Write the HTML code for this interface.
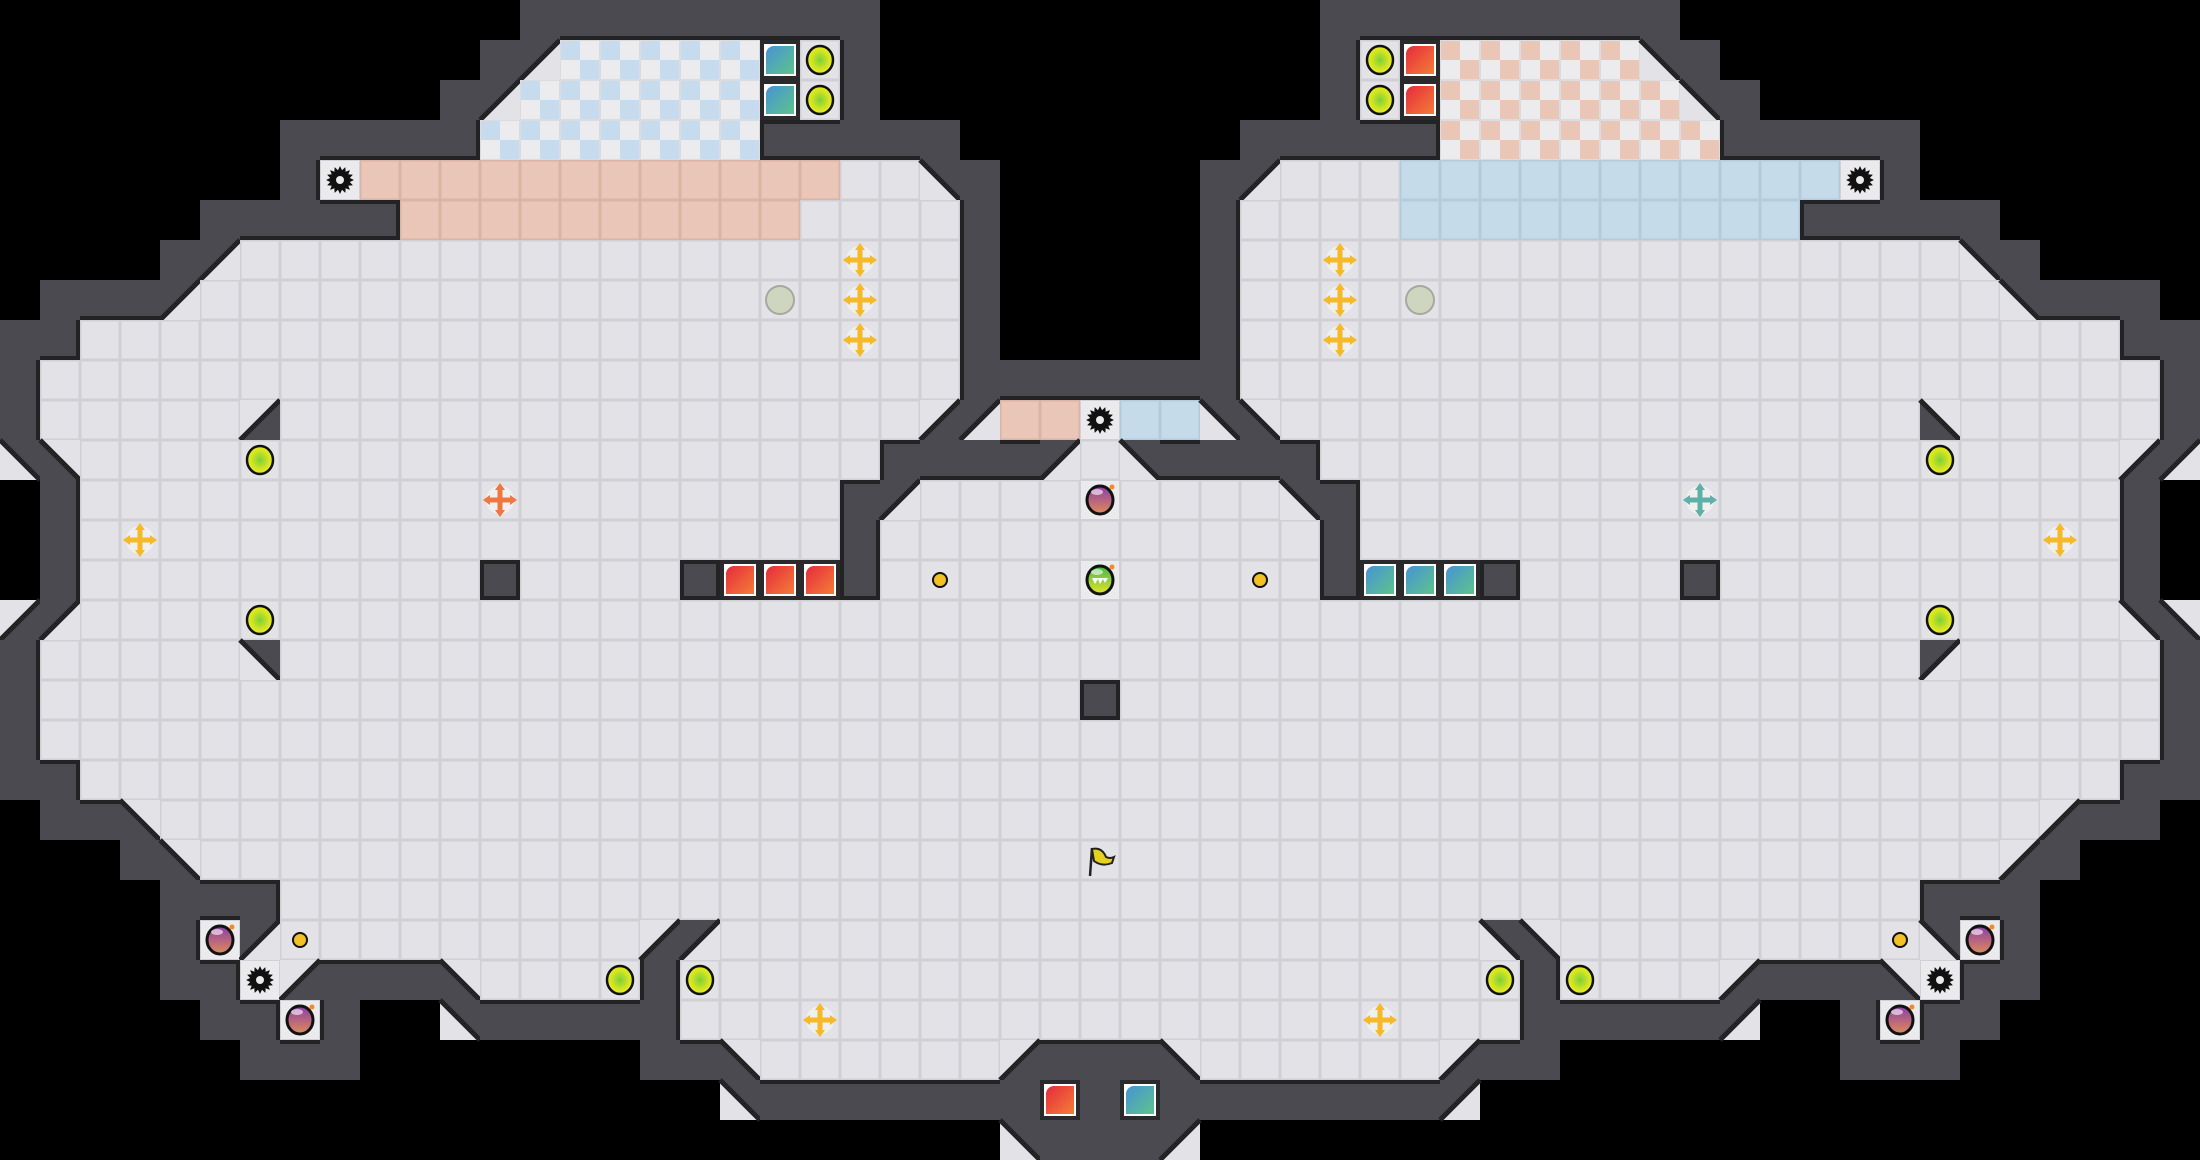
<!DOCTYPE html>
<html><head><meta charset="utf-8"><style>
html,body{margin:0;padding:0;background:#000;width:2200px;height:1160px;overflow:hidden}
svg{display:block}
</style></head><body>
<svg id="s" xmlns="http://www.w3.org/2000/svg" width="2200" height="1160" viewBox="0 0 2200 1160">
<defs>
<radialGradient id="yg" cx="50%" cy="50%" r="50%"><stop offset="0" stop-color="#7ccf3a"/><stop offset="0.7" stop-color="#d7e620"/><stop offset="1" stop-color="#e8ec1e"/></radialGradient>
<linearGradient id="pg" x1="0" y1="0" x2="0" y2="1"><stop offset="0" stop-color="#8a3fa6"/><stop offset="1" stop-color="#e08a5a"/></linearGradient>
<linearGradient id="gg" x1="0" y1="0" x2="0" y2="1"><stop offset="0" stop-color="#3fb84a"/><stop offset="1" stop-color="#e6e52a"/></linearGradient>
<linearGradient id="rg" x1="0" y1="0" x2="1" y2="1"><stop offset="0" stop-color="#e62b3c"/><stop offset="1" stop-color="#f47d38"/></linearGradient>
<linearGradient id="tg" x1="0" y1="0" x2="1" y2="1"><stop offset="0" stop-color="#4793d4"/><stop offset="1" stop-color="#5dc48a"/></linearGradient>
</defs>
<rect width="2200" height="1160" fill="#000"/>
<g id="g"></g>
</svg>
<script>
var L=[
"             #########      ",
"            #aXXXXX..#      ",
"           #aXXXXXX..#      ",
"       #####XXXXXXX#####    ",
"       #.SSSSSSSSSSSS..b#   ",
"     #####SSSSSSSSSS....#   ",
"    #a..................#   ",
" ###a...................#   ",
"##......................#   ",
"#.......................####",
"#.....d................daSS.",
"bc....................####a.",
" #...................#a.....",
" #...................#......",
" #..........#....#...#......",
"da..........................",
"#.....b.....................",
"#..........................#",
"#...........................",
"##..........................",
" ##c........................",
"   #c.......................",
"    ###.....................",
"    #.a.........da..........",
"    ##.d###c....#...........",
"     ##.#  b#####...........",
"      ###       ##c......d##",
"                  b#########",
"                         b##"
];
var mir={a:'b',b:'a',c:'d',d:'c',S:'B',B:'S',X:'Y',Y:'X'};
var G=[];
for(var r=0;r<29;r++){G[r]=[];for(var c=0;c<55;c++){var ch=c<28?L[r][c]:L[r][54-c];if(c>=28)ch=mir[ch]||ch;if(c==27&&r==10)ch='.';G[r][c]=ch;}}
G[4][34]='.';
var W='#4b4a50',out=[];
function isF(ch){return '.SBXY'.indexOf(ch)>=0;}
function col(ch){return ch=='S'?['#e9c6b8','#dbb4a5']:ch=='B'?['#c6dbea','#b3cbdc']:['#e3e3e7','#d0d0d6'];}
for(var r=0;r<29;r++)for(var c=0;c<55;c++){
 var ch=G[r][c],x=c*40,y=r*40;
 if(ch=='#'){out.push('<rect x="'+x+'" y="'+y+'" width="40" height="40" fill="'+W+'"/>');}
 else if(isF(ch)){
  if(ch=='X'||ch=='Y'){var q=ch=='X'?'#c6dcee':'#eac6b6';
   out.push('<rect x="'+x+'" y="'+y+'" width="40" height="40" fill="#ececef"/>');
   out.push('<rect x="'+x+'" y="'+y+'" width="20" height="20" fill="'+q+'"/><rect x="'+(x+20)+'" y="'+(y+20)+'" width="20" height="20" fill="'+q+'"/>');
   out.push('<rect x="'+(x+.5)+'" y="'+(y+.5)+'" width="39" height="39" fill="none" stroke="#dcdce0" stroke-width="1"/>');
  } else {var k=col(ch);out.push('<rect x="'+(x+.75)+'" y="'+(y+.75)+'" width="38.5" height="38.5" fill="'+k[0]+'" stroke="'+k[1]+'" stroke-width="1.5"/>');}
 } else if('abcd'.indexOf(ch)>=0){
  var P={a:[[x+40,y],[x+40,y+40],[x,y+40]],b:[[x,y],[x+40,y+40],[x,y+40]],c:[[x,y],[x+40,y],[x+40,y+40]],d:[[x,y],[x+40,y],[x,y+40]]};
  var Q={a:[[x,y],[x+40,y],[x,y+40]],b:[[x,y],[x+40,y],[x+40,y+40]],c:[[x,y],[x,y+40],[x+40,y+40]],d:[[x+40,y],[x+40,y+40],[x,y+40]]};
  var H={a:[x+40,y,x,y+40],b:[x,y,x+40,y+40],c:[x,y,x+40,y+40],d:[x+40,y,x,y+40]};
  out.push('<rect x="'+x+'" y="'+y+'" width="40" height="40" fill="#e3e3e7"/>');
  out.push('<polygon points="'+Q[ch].join(' ')+'" fill="'+W+'"/>');
  var h=H[ch];out.push('<line x1="'+h[0]+'" y1="'+h[1]+'" x2="'+h[2]+'" y2="'+h[3]+'" stroke="#232326" stroke-width="5"/>');
 }
}
// edge lines between wall and floor
function g(r,c){return (r<0||r>28||c<0||c>54)?' ':G[r][c];}
for(var r=0;r<29;r++)for(var c=0;c<55;c++){if(G[r][c]!='#')continue;var x=c*40,y=r*40;
 if(isF(g(r-1,c)))out.push('<line x1="'+x+'" y1="'+(y+2)+'" x2="'+(x+40)+'" y2="'+(y+2)+'" stroke="#232326" stroke-width="4"/>');
 if(isF(g(r+1,c)))out.push('<line x1="'+x+'" y1="'+(y+38)+'" x2="'+(x+40)+'" y2="'+(y+38)+'" stroke="#232326" stroke-width="4"/>');
 if(isF(g(r,c-1)))out.push('<line x1="'+(x+2)+'" y1="'+y+'" x2="'+(x+2)+'" y2="'+(y+40)+'" stroke="#232326" stroke-width="4"/>');
 if(isF(g(r,c+1)))out.push('<line x1="'+(x+38)+'" y1="'+y+'" x2="'+(x+38)+'" y2="'+(y+40)+'" stroke="#232326" stroke-width="4"/>');
}
function C(c,r){return [c*40+20,r*40+20];}
function gear(c,r){var p=C(c,r),pts=[];for(var i=0;i<32;i++){var a=i*Math.PI/16,rr=i%2?10:14;pts.push((p[0]+rr*Math.cos(a)).toFixed(1)+','+(p[1]+rr*Math.sin(a)).toFixed(1));}
 return '<rect x="'+(c*40+1)+'" y="'+(r*40+1)+'" width="38" height="38" fill="#ebebee"/><polygon points="'+pts.join(' ')+'" fill="#111"/><circle cx="'+p[0]+'" cy="'+p[1]+'" r="4" fill="#ebebee"/>';}
function ycirc(c,r){var p=C(c,r);return '<ellipse cx="'+p[0]+'" cy="'+p[1]+'" rx="13" ry="14" fill="url(#yg)" stroke="#111" stroke-width="2.5"/>';}
function gcirc(c,r){var p=C(c,r);return '<ellipse cx="'+p[0]+'" cy="'+p[1]+'" rx="14" ry="14" fill="#cfd6bf" stroke="#a5a8a0" stroke-width="2"/>';}
function cross(c,r,k){var p=C(c,r),x=p[0],y=p[1];return '<circle cx="'+x+'" cy="'+y+'" r="14" fill="#f2f2f4" opacity="0.8"/>'+
 '<path d="M'+(x-11)+' '+y+'H'+(x+11)+'M'+x+' '+(y-11)+'V'+(y+11)+'" stroke="'+k+'" stroke-width="5"/>'+
 '<polygon points="'+x+','+(y-17)+' '+(x-5)+','+(y-10)+' '+(x+5)+','+(y-10)+'" fill="'+k+'"/>'+
 '<polygon points="'+x+','+(y+17)+' '+(x-5)+','+(y+10)+' '+(x+5)+','+(y+10)+'" fill="'+k+'"/>'+
 '<polygon points="'+(x-17)+','+y+' '+(x-10)+','+(y-5)+' '+(x-10)+','+(y+5)+'" fill="'+k+'"/>'+
 '<polygon points="'+(x+17)+','+y+' '+(x+10)+','+(y-5)+' '+(x+10)+','+(y+5)+'" fill="'+k+'"/>';}
function dot(c,r){var p=C(c,r);return '<circle cx="'+p[0]+'" cy="'+p[1]+'" r="7" fill="#f3c222" stroke="#111" stroke-width="2"/>';}
function bomb(c,r,gr){var p=C(c,r);return '<rect x="'+(c*40+1)+'" y="'+(r*40+1)+'" width="38" height="38" fill="#ebebee"/><ellipse cx="'+p[0]+'" cy="'+p[1]+'" rx="13" ry="14" fill="url(#'+gr+')" stroke="#111" stroke-width="3"/><ellipse cx="'+(p[0]-3)+'" cy="'+(p[1]-8)+'" rx="6" ry="3" fill="#fff" opacity="0.6"/><circle cx="'+(p[0]+12)+'" cy="'+(p[1]-13)+'" r="2.5" fill="#f08a2a"/>'+(gr=='gg'?'<path d="M'+(p[0]-8)+' '+(p[1]-2)+'h16l-3 5-2-4-3 5-2-5-3 5z" fill="#fff"/>':'');}
function box(c,r,gr){var x=c*40,y=r*40;return '<rect x="'+x+'" y="'+y+'" width="40" height="40" fill="#2a2a2d"/><rect x="'+(x+4)+'" y="'+(y+4)+'" width="32" height="32" fill="#fff"/><rect x="'+(x+6)+'" y="'+(y+6)+'" width="28" height="28" fill="url(#'+gr+')"/><path d="M'+(x+6)+' '+(y+6)+'h8a8 8 0 0 0 -8 8z" fill="#fff"/>';}
var it=[];
[[8,4],[46,4],[27,10],[6,24],[48,24]].forEach(function(a){it.push(gear(a[0],a[1]));});
[[20,1],[20,2],[34,1],[34,2],[6,11],[6,15],[48,11],[48,15],[15,24],[17,24],[37,24],[39,24]].forEach(function(a){it.push(ycirc(a[0],a[1]));});
[[19,7],[35,7]].forEach(function(a){it.push(gcirc(a[0],a[1]));});
[[21,6],[21,7],[21,8],[33,6],[33,7],[33,8],[3,13],[51,13],[20,25],[34,25]].forEach(function(a){it.push(cross(a[0],a[1],'#f6b928'));});
it.push(cross(12,12,'#f0773f'));it.push(cross(42,12,'#5fb0a6'));
[[23,14],[31,14],[7,23],[47,23]].forEach(function(a){it.push(dot(a[0],a[1]));});
[[27,12],[5,23],[7,25],[49,23],[47,25]].forEach(function(a){it.push(bomb(a[0],a[1],'pg'));});
it.push(bomb(27,14,'gg'));
[[18,14],[19,14],[20,14],[35,1],[35,2],[26,27]].forEach(function(a){it.push(box(a[0],a[1],'rg'));});
[[19,1],[19,2],[34,14],[35,14],[36,14],[28,27]].forEach(function(a){it.push(box(a[0],a[1],'tg'));});
var fx=27*40,fy=21*40;
it.push('<line x1="'+(fx+12)+'' +'" y1="'+(fy+8)+'" x2="'+(fx+10)+'" y2="'+(fy+36)+'" stroke="#222" stroke-width="2.5"/><path d="M'+(fx+12)+' '+(fy+9)+'q10 -2 14 8q4 2 8 0l-2 6q-10 4-18 -2z" fill="#e6d21e" stroke="#222" stroke-width="2"/>');
document.getElementById('g').innerHTML=out.join('')+it.join('');
</script>
</body></html>
